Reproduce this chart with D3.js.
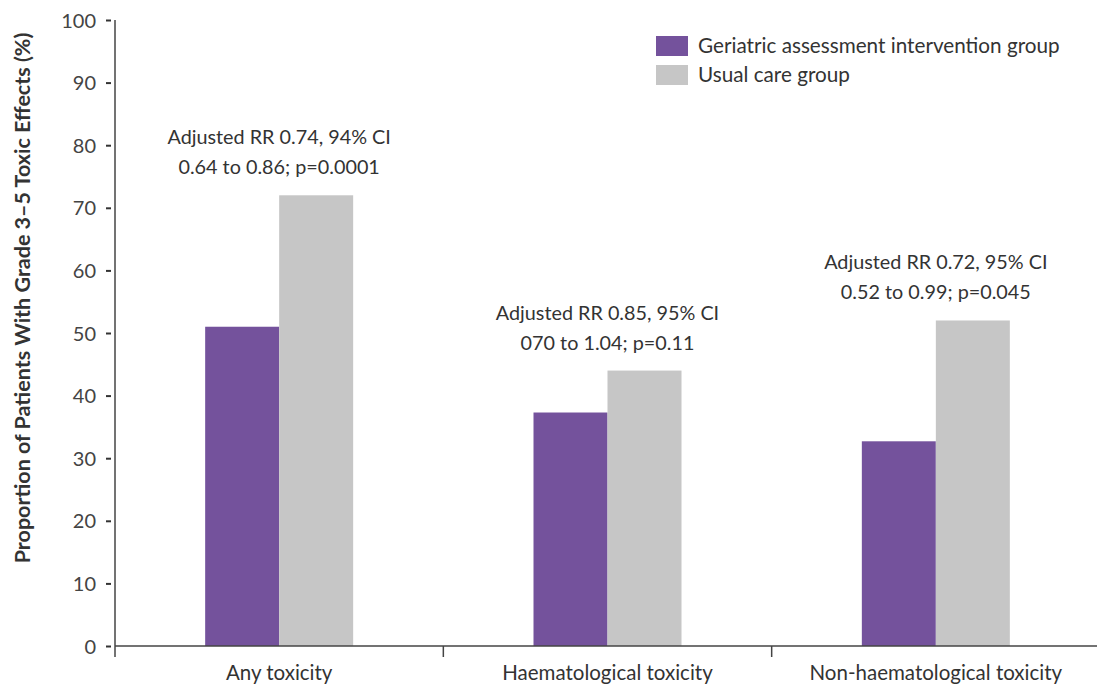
<!DOCTYPE html>
<html>
<head>
<meta charset="utf-8">
<script src="https://cdn.jsdelivr.net/npm/d3@7"></script>
<style>
  body { margin: 0; background: #fff; overflow: hidden; }
  text { font-family: Lato, "Open Sans", sans-serif; }
</style>
</head>
<body>
<svg id="chart"></svg>
<script>
const categories = ["Any toxicity", "Haematological toxicity", "Non-haematological toxicity"];
const groups = ["Geriatric assessment intervention group", "Usual care group"];
const interventionValues = [51, 37.3, 32.7];
const usualCareValues = [72, 44, 52];
const annotations = [
    ["Adjusted RR 0.74, 94% CI", "0.64 to 0.86; p=0.0001"],
    ["Adjusted RR 0.85, 95% CI", "070 to 1.04; p=0.11"],
    ["Adjusted RR 0.72, 95% CI", "0.52 to 0.99; p=0.045"]
];
const yTicks = [0, 10, 20, 30, 40, 50, 60, 70, 80, 90, 100];

const W = 1097, H = 686;
const margin = { top: 20, right: 0, bottom: 40, left: 115 };
const width = 985, height = 646 - margin.top;

const svg = d3.select("#chart").attr("width", W).attr("height", H)
    .append("g")
    .attr("transform", `translate(${margin.left},${margin.top})`);

const colors = d3.scaleOrdinal().domain(groups).range(["#74529c", "#c6c6c6"]);
const x = d3.scaleBand().domain(categories).range([0, width]);
const x1 = d3.scaleBand().domain(groups).range([0, 148]);
const y = d3.scaleLinear().domain([0, 100]).range([height, 0]);

const data = categories.map((c, i) => ({ cat: c, values: [interventionValues[i], usualCareValues[i]] }));

// bars
const catG = svg.selectAll(".cat").data(data).enter().append("g")
    .attr("transform", d => `translate(${x(d.cat) + x.bandwidth() / 2 - 74},0)`);
catG.selectAll("rect")
    .data(d => d.values.map((v, j) => ({ g: groups[j], v })))
    .enter().append("rect")
    .attr("x", d => x1(d.g))
    .attr("y", d => y(d.v))
    .attr("width", x1.bandwidth())
    .attr("height", d => height - y(d.v))
    .attr("fill", d => colors(d.g));

// y axis
const yAxis = svg.append("g")
    .attr("transform", "translate(-4,0)")
    .call(d3.axisLeft(y).tickValues(yTicks).tickSize(5).tickPadding(10));
yAxis.select(".domain").remove();
yAxis.selectAll("line").attr("stroke", "#333").attr("stroke-width", 2);
yAxis.selectAll("text").style("font-size", "20px").attr("fill", "#444").attr("dy", "0.35em");

svg.append("line").attr("x1", 0).attr("x2", 0).attr("y1", 0).attr("y2", height + 11)
    .attr("stroke", "#444").attr("stroke-width", 1.5);

// x axis
svg.append("line").attr("x1", 0).attr("x2", width).attr("y1", height).attr("y2", height)
    .attr("stroke", "#444").attr("stroke-width", 1.5);
svg.selectAll(".sep").data(categories.slice(1)).enter().append("line")
    .attr("x1", d => x(d)).attr("x2", d => x(d))
    .attr("y1", height).attr("y2", height + 11)
    .attr("stroke", "#444").attr("stroke-width", 1.5);
svg.selectAll(".xlab").data(categories).enter().append("text")
    .attr("x", d => x(d) + x.bandwidth() / 2)
    .attr("y", height + 34)
    .attr("text-anchor", "middle")
    .style("font-size", "20.5px")
    .attr("fill", "#333")
    .text(d => d);

// y title
svg.append("text")
    .attr("transform", `translate(${30 - margin.left},${298 - margin.top}) rotate(-90)`)
    .attr("text-anchor", "middle")
    .style("font-size", "21.5px")
    .style("font-weight", "bold")
    .attr("fill", "#333")
    .text("Proportion of Patients With Grade 3–5 Toxic Effects (%)");

// annotations
data.forEach((d, i) => {
    const top = y(d3.max(d.values));
    const cx = x(d.cat) + x.bandwidth() / 2;
    const t = svg.append("text")
        .attr("text-anchor", "middle")
        .style("font-size", "19.8px")
        .attr("fill", "#333");
    t.append("tspan").attr("x", cx).attr("y", top - 51).text(annotations[i][0]);
    t.append("tspan").attr("x", cx).attr("y", top - 21).text(annotations[i][1]);
});

// legend
const legend = svg.append("g").attr("transform", `translate(${656 - margin.left},${36 - margin.top})`);
groups.forEach((g, i) => {
    legend.append("rect").attr("x", 0).attr("y", i * 29).attr("width", 32).attr("height", 20).attr("fill", colors(g));
    legend.append("text").attr("x", 42).attr("y", i * 29 + 17)
        .style("font-size", "20.7px").attr("fill", "#333").text(g);
});
</script>
</body>
</html>
